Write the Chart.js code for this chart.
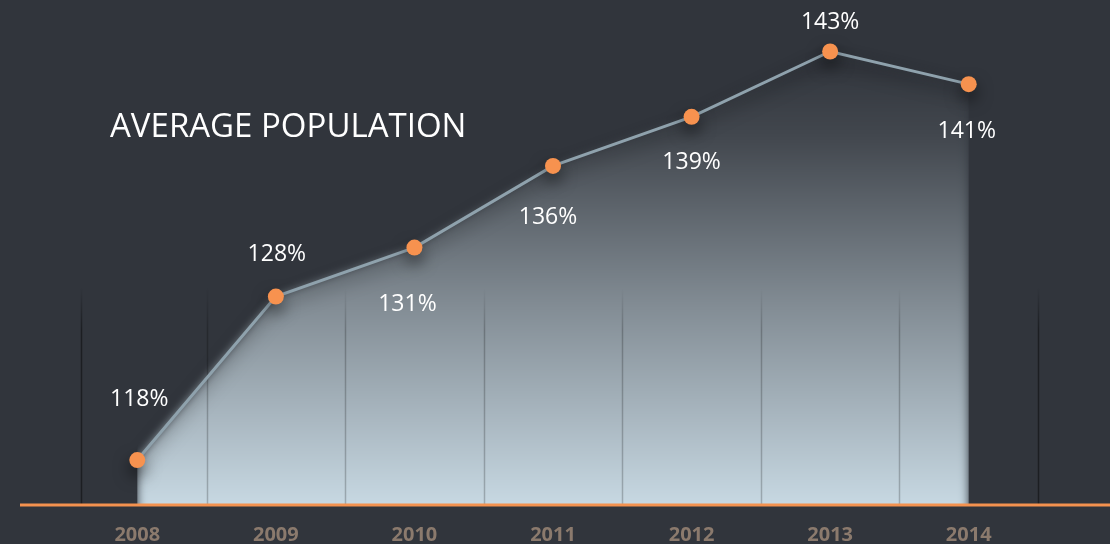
<!DOCTYPE html>
<html>
<head>
<meta charset="utf-8">
<script src="https://cdn.jsdelivr.net/npm/chart.js@4.4.1/dist/chart.umd.min.js"></script>
<style>
  html, body { margin: 0; padding: 0; background: #31353c; }
  #wrap { width: 1110px; height: 544px; position: relative; }
</style>
</head>
<body>
<div id="wrap"><canvas id="chart"></canvas></div>
<script>
const years = ['2008', '2009', '2010', '2011', '2012', '2013', '2014'];
const population = [118, 128, 131, 136, 139, 143, 141];
const chartTitle = 'AVERAGE POPULATION';

// label placement around each point (px)
const labelDx = [2, 1, -7, -5, 0, 0, -2];
const labelDy = [-61, -42, 57, 52, 46, -29, 47];

const fillBlur = {
    id: 'fillBlur',
    beforeDatasetsDraw(chart) {
        chart.ctx.save();
        chart.ctx.filter = 'blur(5px)';
    },
    afterDatasetDraw(chart, args) {
        if (args.index !== 0) return;
        const ctx = chart.ctx;
        ctx.restore();
        // vertical separators, drawn over the fill but under the line
        const x = chart.scales.x;
        const bottom = chart.chartArea.bottom;
        const step = x.getPixelForValue(1) - x.getPixelForValue(0);
        for (let i = 0; i <= years.length; i++) {
            let px = Math.round(x.getPixelForValue(0) + (i - 0.5) * step) + 0.5;
            if (i === 0) px += 13;
            const outer = i === 0 || i === years.length;
            const g = ctx.createLinearGradient(0, 288, 0, 330);
            g.addColorStop(0, 'rgba(0,0,0,0)');
            g.addColorStop(1, outer ? 'rgba(0,0,0,0.42)' : 'rgba(0,0,0,0.22)');
            ctx.save();
            ctx.strokeStyle = g;
            ctx.lineWidth = 1.5;
            ctx.beginPath();
            ctx.moveTo(px, 288);
            ctx.lineTo(px, bottom);
            ctx.stroke();
            ctx.restore();
        }
    },
    beforeDatasetDraw(chart, args) {
        if (args.index !== 1) return;
        const ctx = chart.ctx;
        ctx.save();
        ctx.shadowColor = 'rgba(0,0,0,0.55)';
        ctx.shadowBlur = 16;
        ctx.shadowOffsetY = 8;
    },
    afterDatasetsDraw(chart) {
        const ctx = chart.ctx;
        ctx.restore();
        const bottom = chart.chartArea.bottom;
        ctx.save();
        ctx.fillStyle = '#f4924f';
        ctx.fillRect(20, bottom - 1.5, chart.width - 20, 3);
        // value labels
        const meta = chart.getDatasetMeta(1);
        ctx.fillStyle = '#ffffff';
        ctx.font = '23px "Open Sans"';
        ctx.textAlign = 'center';
        ctx.textBaseline = 'middle';
        meta.data.forEach(function(pt, i) {
            ctx.fillText(population[i] + '%', pt.x + labelDx[i], pt.y + labelDy[i]);
        });
        // title
        ctx.font = '33px "Open Sans"';
        ctx.textAlign = 'left';
        ctx.textBaseline = 'alphabetic';
        ctx.fillText(chartTitle, 110, 137);
        ctx.restore();
    }
};

function fillGradient(context) {
    const area = context.chart.chartArea;
    if (!area) return 'rgba(0,0,0,0)';
    const g = context.chart.ctx.createLinearGradient(0, area.top, 0, area.bottom);
    g.addColorStop(0, '#31353c');
    g.addColorStop(0.12, '#33373e');
    g.addColorStop(0.26, '#42474e');
    g.addColorStop(0.6, '#828c94');
    g.addColorStop(1, '#c7d8e2');
    return g;
}

new Chart(document.getElementById('chart'), {
    type: 'line',
    data: {
        labels: years,
        datasets: [{
            data: population,
            order: 2,
            borderWidth: 0,
            pointRadius: 0,
            backgroundColor: fillGradient,
            fill: { value: 100 }
        }, {
            data: population,
            order: 1,
            borderColor: '#8fa2ad',
            borderWidth: 3,
            pointRadius: 8,
            pointHoverRadius: 8,
            pointBackgroundColor: '#f7924f',
            pointBorderWidth: 0,
            fill: false
        }]
    },
    options: {
        responsive: true,
        maintainAspectRatio: false,
        animation: false,
        events: [],
        layout: { padding: { left: 68, right: 72, top: 0, bottom: -21 } },
        plugins: {
            legend: { display: false },
            tooltip: { enabled: false }
        },
        scales: {
            x: {
                offset: true,
                grid: { display: false, drawTicks: false },
                border: { display: false },
                ticks: {
                    color: '#8b7a6d',
                    padding: 18,
                    font: { family: '"Open Sans"', size: 20, weight: 'bold' }
                }
            },
            y: {
                display: false,
                min: 115.25,
                max: 145.66
            }
        }
    },
    plugins: [fillBlur]
});
</script>
</body>
</html>
